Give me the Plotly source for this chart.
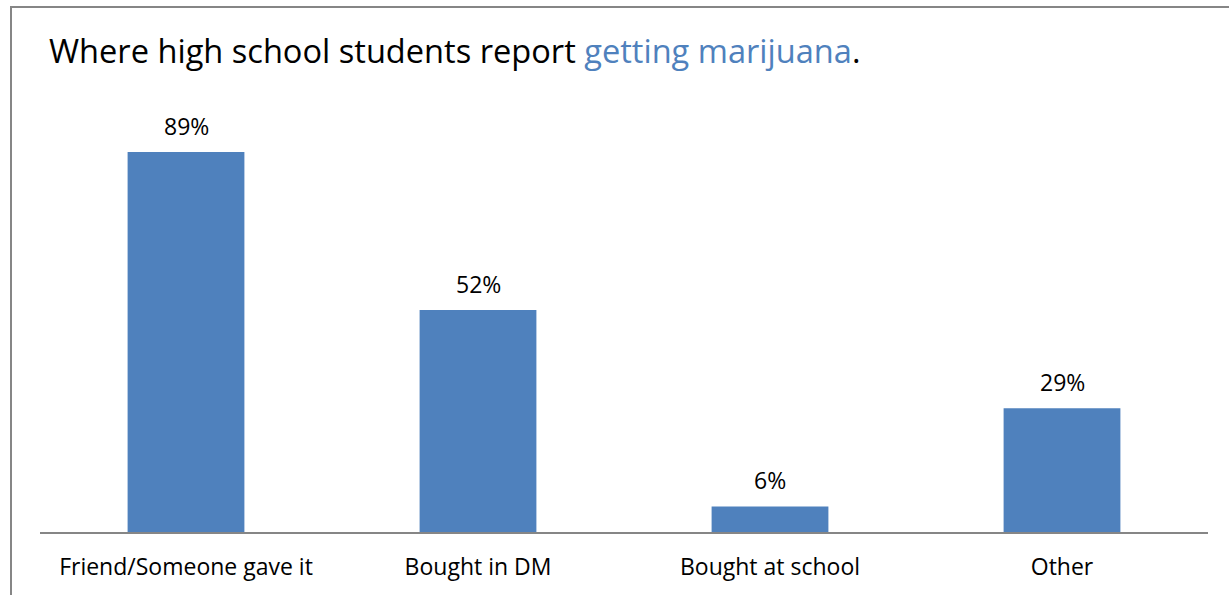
import plotly.graph_objects as go

categories = ["Friend/Someone gave it", "Bought in DM", "Bought at school", "Other"]
shares = [89, 52, 6, 29]
value_labels = ["89%", "52%", "6%", "29%"]

BAR_COLOR = "#4F81BD"
FONT = "Open Sans"

fig = go.Figure(
    go.Bar(
        x=categories,
        y=shares,
        marker=dict(color=BAR_COLOR, line=dict(width=0)),
        width=0.4,
        hoverinfo="skip",
    )
)

# value labels above each bar
for cat, val, lab in zip(categories, shares, value_labels):
    fig.add_annotation(
        x=cat, y=val, text=lab, showarrow=False,
        yanchor="bottom", yshift=8,
        font=dict(family=FONT, size=23, color="#000000"),
    )

# title with highlighted phrase
fig.add_annotation(
    xref="paper", yref="paper", x=(47 - 40) / 1168, y=(532 - 50) / 427,
    xanchor="left", yanchor="middle", showarrow=False,
    text="Where high school students report <span style='color:#4F81BD'>getting marijuana</span>.",
    font=dict(family=FONT, size=32.6, color="#000000"),
)

# chart frame
fig.add_shape(
    type="rect", xref="paper", yref="paper",
    x0=(11 - 40) / 1168, y0=-0.5, x1=1.2, y1=(532 - 7) / 427,
    line=dict(color="#868686", width=2), layer="below",
)

fig.update_layout(
    width=1229, height=595,
    margin=dict(l=40, r=21, t=105, b=63),
    paper_bgcolor="white", plot_bgcolor="white",
    showlegend=False,
    bargap=0.6,
    font=dict(family=FONT, size=20, color="#000000"),
    xaxis=dict(
        showline=True, linecolor="#868686", linewidth=2,
        ticks="", showgrid=False, zeroline=False,
        tickfont=dict(family=FONT, size=23, color="#000000"),
        ticklabelstandoff=13,
    ),
    yaxis=dict(range=[0, 100], visible=False, showgrid=False, zeroline=False),
)

fig.write_html("out.html")
